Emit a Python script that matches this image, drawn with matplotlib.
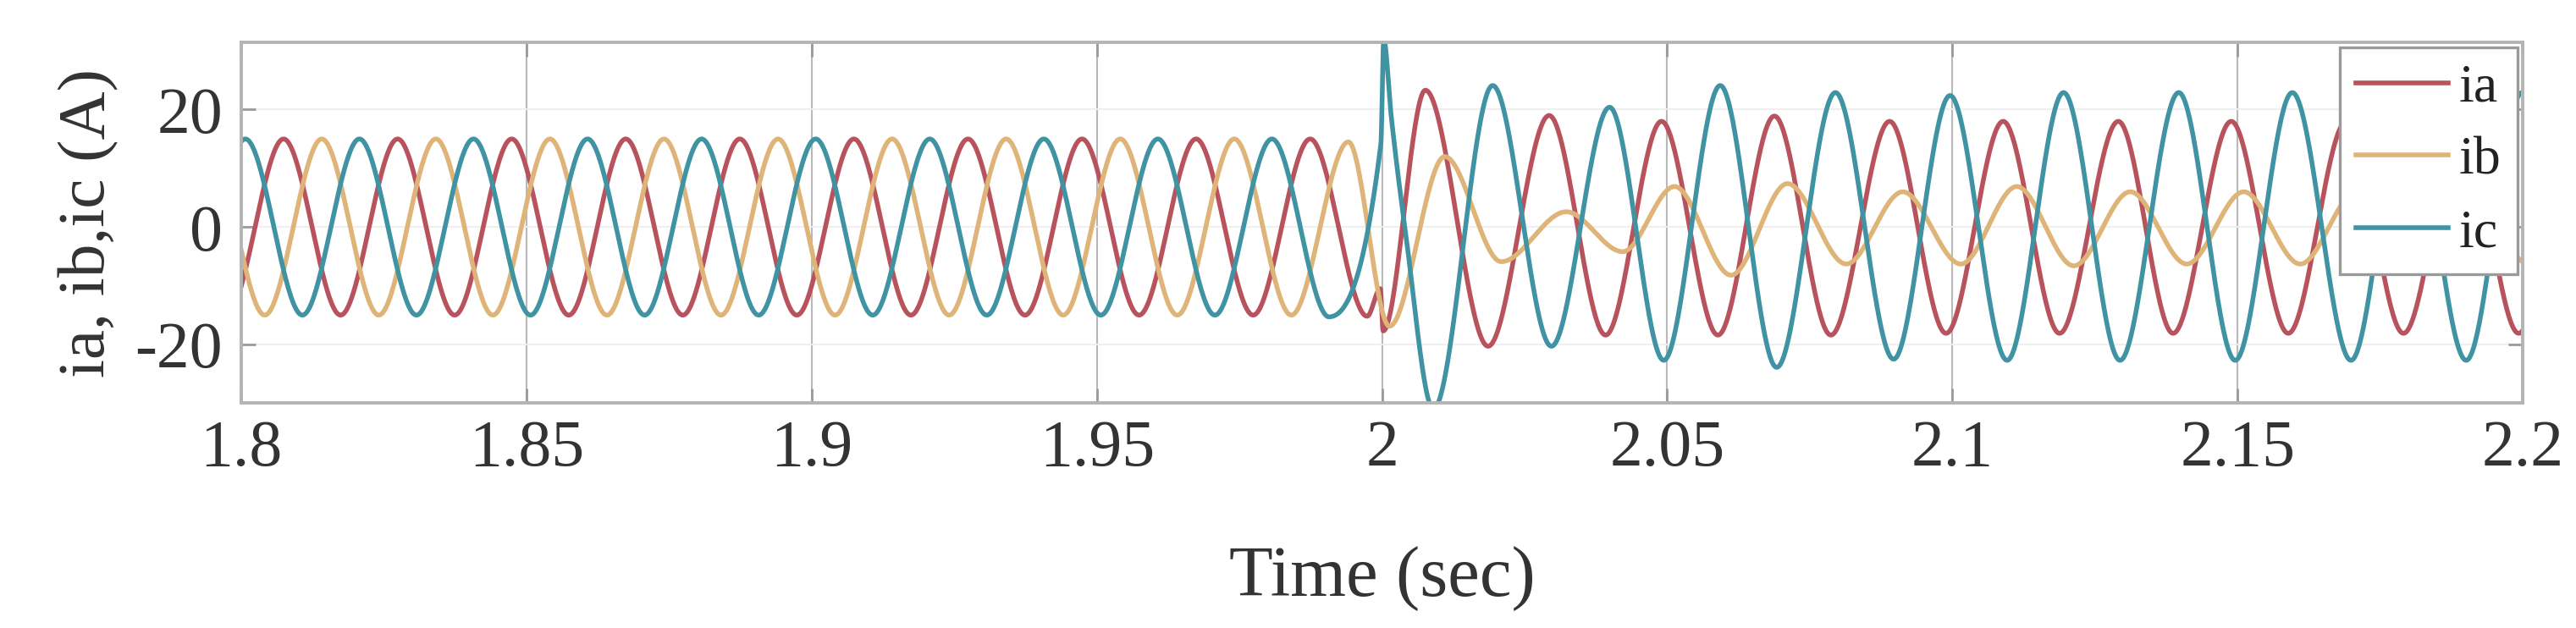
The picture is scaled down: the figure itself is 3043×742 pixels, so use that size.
import matplotlib
matplotlib.use("Agg")
import matplotlib.pyplot as plt
import numpy as np

# extrema (time in s, current in A), one list per phase
ia_t = [1.7974, 1.8074, 1.8174, 1.8274, 1.8374, 1.8474, 1.8574, 1.8674, 1.8774, 1.8874,
        1.8974, 1.9074, 1.9174, 1.9274, 1.9374, 1.9474, 1.9574, 1.9674, 1.9774, 1.9874,
        1.9974, 1.9997, 2.0002, 2.0076, 2.0186, 2.0293, 2.0392, 2.0490, 2.0589, 2.0688,
        2.0787, 2.0890, 2.0989, 2.1089, 2.1188, 2.1291, 2.1387, 2.1489, 2.1589, 2.1691,
        2.1791, 2.1894, 2.1993, 2.2093]
ia_v = [-15, 15, -15, 15, -15, 15, -15, 15, -15, 15,
        -15, 15, -15, 15, -15, 15, -15, 15, -15, 15,
        -15.2, -10.5, -17.7, 23.3, -20.3, 19.0, -18.4, 18.0, -18.4, 18.9,
        -18.4, 18.0, -18.1, 18.0, -18.1, 18.0, -18.1, 18.0, -18.1, 18.0,
        -18.1, 18.0, -18.1, 18.0]

ib_t = [1.7941, 1.8041, 1.8141, 1.8241, 1.8341, 1.8441, 1.8541, 1.8641, 1.8741, 1.8841,
        1.8941, 1.9041, 1.9141, 1.9241, 1.9341, 1.9441, 1.9541, 1.9641, 1.9741, 1.9841,
        1.9941, 2.0013, 2.0110, 2.0209, 2.0323, 2.0422, 2.0513, 2.0612, 2.0711, 2.0814,
        2.0913, 2.1015, 2.1113, 2.1213, 2.1312, 2.1411, 2.1511, 2.1610, 2.1709, 2.1810,
        2.1910, 2.2010]
ib_v = [15, -15, 15, -15, 15, -15, 15, -15, 15, -15,
        15, -15, 15, -15, 15, -15, 15, -15, 15, -15,
        14.5, -16.9, 12.0, -5.9, 2.6, -4.2, 6.9, -8.2, 7.4, -6.3,
        6.0, -6.3, 6.9, -6.6, 6.0, -6.3, 6.0, -6.3, 6.0, -6.3,
        6.0, -6.3]

ic_t = [1.7907, 1.8007, 1.8107, 1.8207, 1.8307, 1.8407, 1.8507, 1.8607, 1.8707, 1.8807,
        1.8907, 1.9007, 1.9107, 1.9207, 1.9307, 1.9407, 1.9507, 1.9607, 1.9707, 1.9807,
        1.9907, 1.9998, 2.0003, 2.0016, 2.0040, 2.0090, 2.0194, 2.0297, 2.0399, 2.0494,
        2.0593, 2.0692, 2.0795, 2.0897, 2.0996, 2.1096, 2.1195, 2.1294, 2.1397, 2.1496,
        2.1596, 2.1699, 2.1798, 2.1901, 2.1999, 2.2099]
ic_v = [-15, 15, -15, 15, -15, 15, -15, 15, -15, 15,
        -15, 15, -15, 15, -15, 15, -15, 15, -15, 15,
        -15.3, 14.2, 32.0, 19.0, 0.0, -31.0, 24.1, -20.3, 20.4, -22.7,
        24.1, -23.9, 22.9, -22.5, 22.4, -22.7, 22.9, -22.7, 22.9, -22.7,
        22.9, -22.7, 22.9, -22.7, 22.9, -22.7]

labels = ['ia', 'ib', 'ic']
colors = ['#b8535d', '#dfb479', '#3f93a3']
x_ticks = [1.8, 1.85, 1.9, 1.95, 2.0, 2.05, 2.1, 2.15, 2.2]
x_ticklabels = ['1.8', '1.85', '1.9', '1.95', '2', '2.05', '2.1', '2.15', '2.2']
y_ticks = [-20, 0, 20]


def smooth_through(x, y, xs):
    # monotone cubic (pchip) through the read extrema
    x = np.asarray(x, float)
    y = np.asarray(y, float)
    h = np.diff(x)
    d = np.diff(y) / h
    m = np.zeros_like(y)
    for k in range(1, len(x) - 1):
        if d[k - 1] * d[k] > 0:
            w1 = 2 * h[k] + h[k - 1]
            w2 = h[k] + 2 * h[k - 1]
            m[k] = (w1 + w2) / (w1 / d[k - 1] + w2 / d[k])
    idx = np.clip(np.searchsorted(x, xs) - 1, 0, len(x) - 2)
    s = (xs - x[idx]) / h[idx]
    h00 = 2 * s**3 - 3 * s**2 + 1
    h10 = s**3 - 2 * s**2 + s
    h01 = -2 * s**3 + 3 * s**2
    h11 = s**3 - s**2
    return (h00 * y[idx] + h10 * h[idx] * m[idx]
            + h01 * y[idx + 1] + h11 * h[idx] * m[idx + 1])


plt.rcParams['font.family'] = ['Liberation Serif', 'DejaVu Serif']
plt.rcParams['axes.unicode_minus'] = False

fig = plt.figure(figsize=(30.43, 7.42), dpi=100)
ax = fig.add_axes([0.0937, 0.358, 0.8856, 0.575])

t = np.linspace(1.79, 2.211, 20000)
for tt, vv, lab, col in zip([ia_t, ib_t, ic_t], [ia_v, ib_v, ic_v], labels, colors):
    ax.plot(t, smooth_through(tt, vv, t), color=col, lw=4.0, label=lab)

ax.set_xlim(1.8, 2.2)
ax.set_ylim(-30, 31.5)
ax.set_xticks(x_ticks)
ax.set_xticklabels(x_ticklabels)
ax.set_yticks(y_ticks)

ax.grid(axis='x', color='#a8a8a8', lw=1.5, alpha=0.8)
ax.grid(axis='y', color='#efefef', lw=1.4)
ax.tick_params(direction='in', length=12, width=2, color='#9a9a9a',
               labelsize=56, labelcolor='#333333', top=True, right=True)
ax.tick_params(axis='x', pad=14)
ax.tick_params(axis='y', pad=16)
for sp in ax.spines.values():
    sp.set_color('#b4b4b4')
    sp.set_linewidth(2.8)

ax.set_xlabel('Time (sec)', fontsize=61, color='#333333', labelpad=56)
ax.set_ylabel('ia, ib,ic (A)', fontsize=57, color='#333333', labelpad=14)

leg = ax.legend(loc='upper right', bbox_to_anchor=(1.0, 1.0), borderaxespad=0.1,
                fontsize=46, handlelength=1.7, handletextpad=0.2, labelspacing=0.42,
                borderpad=0.3, fancybox=False, framealpha=1.0)
leg.get_frame().set_edgecolor('#9a9a9a')
leg.get_frame().set_linewidth(2.4)
for txt in leg.get_texts():
    txt.set_color('#222222')

fig.savefig('out.png', dpi=100)
